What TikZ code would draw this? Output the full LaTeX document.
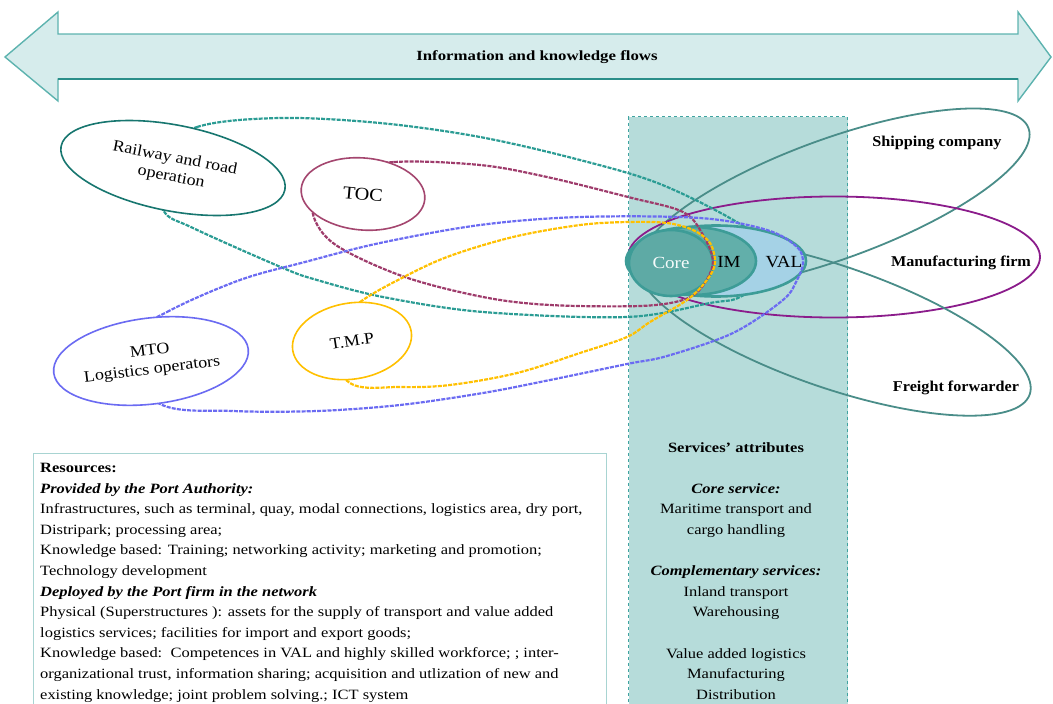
\documentclass[tikz,border=0pt]{standalone}
\usepackage{fontspec}
\setmainfont{Liberation Serif}
\newfontfamily\bodyserif{Liberation Serif}[FakeStretch=1.16]
\newfontfamily\labelserif{Liberation Serif}[FakeStretch=1.08]
\newfontfamily\flowserif{Liberation Serif}[FakeStretch=1.2]
\newfontfamily\actorserif{Liberation Serif}[FakeStretch=1.12]
\usetikzlibrary{shapes.geometric}

\definecolor{arrowfill}{HTML}{D6ECEC}
\definecolor{arrowedge}{HTML}{5DB3AF}
\definecolor{arrowdark}{HTML}{2A8E89}
\definecolor{svcfill}{HTML}{B6DCDA}
\definecolor{svcedge}{HTML}{3FA3A0}
\definecolor{resedge}{HTML}{A8D4D2}
\definecolor{tealloop}{HTML}{2B9C94}
\definecolor{railedge}{HTML}{17766F}
\definecolor{magloop}{HTML}{9E3B6B}
\definecolor{tocedge}{HTML}{A4466F}
\definecolor{blueloop}{HTML}{6B6BF2}
\definecolor{yelloop}{HTML}{FFC000}
\definecolor{partneredge}{HTML}{4A8D89}
\definecolor{manuedge}{HTML}{8B1C8B}
\definecolor{coreedge}{HTML}{3D9C97}
\definecolor{valfill}{HTML}{A5D2E6}
\definecolor{imfill}{HTML}{62AFAA}
\definecolor{corefill}{HTML}{5EAAA5}

\begin{document}
\begin{tikzpicture}[x=1pt,y=-1pt,
  actor/.style={ellipse, draw, fill=white, line width=1.6pt, inner sep=0pt,
    align=center, font=\actorserif\fontsize{16}{19}\selectfont},
  partner/.style={ellipse, draw=partneredge, line width=1.8pt, inner sep=0pt},
  coreshape/.style={ellipse, draw=coreedge, line width=2.6pt, inner sep=0pt},
  flowloop/.style={line width=2.2pt, dash pattern=on 4pt off 1.2pt},
  partnerlabel/.style={font=\labelserif\bfseries\fontsize{15}{17}\selectfont},
  corelabel/.style={font=\actorserif\fontsize{17}{19}\selectfont},
  bodytext/.style={font=\bodyserif\fontsize{14.2}{20.6}\selectfont, inner sep=0pt},
]
\useasboundingbox (0,0) rectangle (1053,704);

% two-headed arrow across the top
\draw[fill=arrowfill, draw=arrowedge, line width=1.4pt, line join=miter]
  (5,57) -- (58,12) -- (58,34) -- (1018,34) -- (1018,12) -- (1051,57)
  -- (1018,101) -- (1018,79) -- (58,79) -- (58,101) -- cycle;
\draw[arrowdark, line width=2.4pt] (58,79) -- (1018,79);
\node[font=\flowserif\bfseries\fontsize{14}{16}\selectfont] (flows) at (537,57)
  {Information and knowledge flows};

% services column
\node[draw=svcedge, fill=svcfill, dashed, line width=1.3pt, anchor=north west,
  minimum width=219pt, minimum height=600pt, inner sep=0pt] (svc) at (628,116) {};

% resources box
\node[draw=resedge, line width=1pt, anchor=north west, minimum width=573pt,
  minimum height=260pt, inner sep=0pt] (resbox) at (33,453) {};

% partner firms on the right
\node[partner, minimum width=414pt, minimum height=120pt, rotate=20] (ship) at (834,199) {};
\node[ellipse, draw=manuedge, line width=1.8pt, inner sep=0pt,
  minimum width=412pt, minimum height=121pt] (manu) at (834,257) {};
\node[partner, minimum width=414pt, minimum height=122pt, rotate=-19] (freight) at (834,327) {};

% flow loop of the rail and road operators
\draw[flowloop, tealloop] plot[smooth cycle, tension=0.55] coordinates {
  (150,160) (197,127) (280,118) (380,123) (480,137) (580,160) (660,184)
  (740,224) (786,262) (742,296) (710,303) (627,317) (483,312) (383,297)
  (317,280) (283,268) (193,228) (163,210)};

% core, IM and VAL services
\node[coreshape, fill=valfill, minimum width=180pt, minimum height=71pt] (val) at (716,261) {};
\node[coreshape, fill=imfill, minimum width=128pt, minimum height=68pt] (im) at (692,261) {};
\node[coreshape, fill=corefill, minimum width=84pt, minimum height=66pt,
  corelabel, text=white!88!svcfill] (core) at (671,263) {Core};
\node[corelabel] (imlbl) at (729,262) {IM};
\node[corelabel] (vallbl) at (784,262) {VAL};

% flow loops of the terminal operators, logistics operators and T.M.P
\draw[flowloop, magloop] plot[smooth cycle, tension=0.55] coordinates {
  (330,175) (394,162) (480,165) (547,177) (628,197) (683,212) (703,235)
  (713,262) (702,287) (683,300) (640,306) (550,305) (483,297) (402,276)
  (333,243) (312,208)};
\draw[flowloop, blueloop] plot[smooth cycle, tension=0.55] coordinates {
  (110,350) (167,312) (240,280) (305,262) (380,243) (480,225) (580,217)
  (700,218) (767,230) (797,247) (803,263) (797,280) (783,300) (733,333)
  (667,356) (627,364) (550,380) (483,393) (400,405) (317,411) (233,411)
  (160,404)};
\draw[flowloop, yelloop] plot[smooth cycle, tension=0.55] coordinates {
  (320,335) (360,302) (398,280) (447,257) (513,237) (580,225) (628,222)
  (667,223) (693,230) (710,243) (715,263) (707,280) (687,300) (650,322)
  (627,337) (583,352) (517,373) (450,385) (400,387) (350,383)};

% actors of the port network
\node[actor, draw=railedge, minimum width=228pt, minimum height=86pt, rotate=-11]
  (rail) at (173,168) {Railway and road\\operation};
\node[actor, draw=tocedge, minimum width=124pt, minimum height=72pt, rotate=-5,
  font=\actorserif\fontsize{18}{20}\selectfont] (toc) at (363,194) {TOC};
\node[actor, draw=blueloop, minimum width=196pt, minimum height=86pt, rotate=7]
  (mto) at (151,361) {MTO\\Logistics operators};
\node[actor, draw=yelloop, minimum width=120pt, minimum height=76pt, rotate=9]
  (tmp) at (352,341) {T.M.P};

% partner labels
\node[partnerlabel] (shiplbl) at (937,143) {Shipping company};
\node[partnerlabel] (manulbl) at (961,263) {Manufacturing firm};
\node[partnerlabel] (freightlbl) at (956,388) {Freight forwarder};

% services' attributes
\node[bodytext, align=center, anchor=north] (attr) at (736,442) {%
  \textbf{Services’ attributes}\\[20.6pt]
  \textbf{\textit{Core service:}}\\
  Maritime transport and\\
  cargo handling\\[20.6pt]
  \textbf{\textit{Complementary services:}}\\
  Inland transport\\
  Warehousing\\[20.6pt]
  Value added logistics\\
  Manufacturing\\
  Distribution};

% resources text
\node[bodytext, align=left, anchor=north west] (res) at (40,463) {%
  \textbf{Resources:}\\
  \textbf{\textit{Provided by the Port Authority:}}\\
  Infrastructures, such as terminal, quay, modal connections, logistics area, dry port,\\
  Distripark; processing area;\\
  Knowledge based: Training; networking activity; marketing and promotion;\\
  Technology development\\
  \textbf{\textit{Deployed by the Port firm in the network}}\\
  Physical (Superstructures ): assets for the supply of transport and value added\\
  logistics services; facilities for import and export goods;\\
  Knowledge based:\ \ Competences in VAL and highly skilled workforce; ; inter-\\
  organizational trust, information sharing; acquisition and utlization of new and\\
  existing knowledge; joint problem solving.; ICT system};
\end{tikzpicture}
\end{document}
